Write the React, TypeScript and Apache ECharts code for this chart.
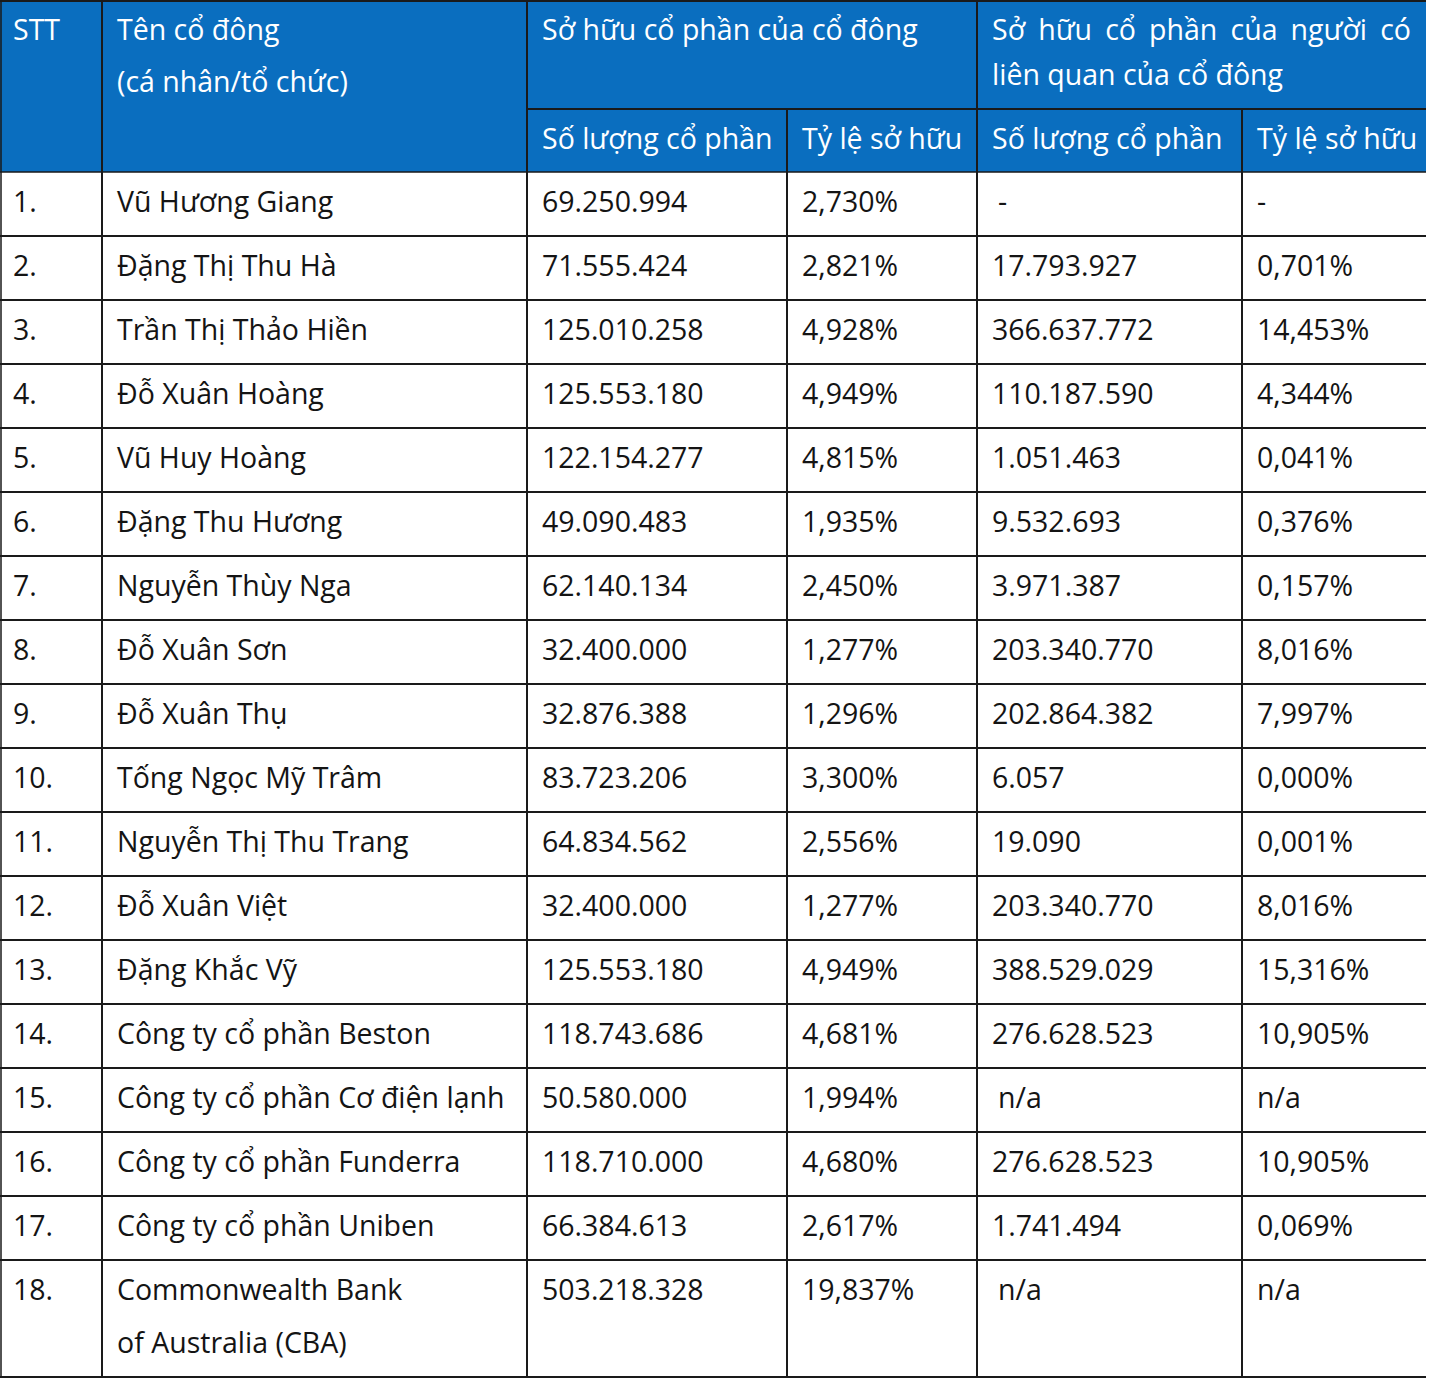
import React, { useEffect, useRef } from "react";
import * as echarts from "echarts";

const stt = ["1.", "2.", "3.", "4.", "5.", "6.", "7.", "8.", "9.", "10.", "11.", "12.", "13.", "14.", "15.", "16.", "17.", "18."];
const names = [
  "Vũ Hương Giang",
  "Đặng Thị Thu Hà",
  "Trần Thị Thảo Hiền",
  "Đỗ Xuân Hoàng",
  "Vũ Huy Hoàng",
  "Đặng Thu Hương",
  "Nguyễn Thùy Nga",
  "Đỗ Xuân Sơn",
  "Đỗ Xuân Thụ",
  "Tống Ngọc Mỹ Trâm",
  "Nguyễn Thị Thu Trang",
  "Đỗ Xuân Việt",
  "Đặng Khắc Vỹ",
  "Công ty cổ phần Beston",
  "Công ty cổ phần Cơ điện lạnh",
  "Công ty cổ phần Funderra",
  "Công ty cổ phần Uniben",
  "Commonwealth Bank\nof Australia (CBA)",
];
const ownShares = [
  "69.250.994", "71.555.424", "125.010.258", "125.553.180", "122.154.277", "49.090.483",
  "62.140.134", "32.400.000", "32.876.388", "83.723.206", "64.834.562", "32.400.000",
  "125.553.180", "118.743.686", "50.580.000", "118.710.000", "66.384.613", "503.218.328",
];
const ownPct = [
  "2,730%", "2,821%", "4,928%", "4,949%", "4,815%", "1,935%", "2,450%", "1,277%", "1,296%",
  "3,300%", "2,556%", "1,277%", "4,949%", "4,681%", "1,994%", "4,680%", "2,617%", "19,837%",
];
const relShares = [
  "-", "17.793.927", "366.637.772", "110.187.590", "1.051.463", "9.532.693", "3.971.387",
  "203.340.770", "202.864.382", "6.057", "19.090", "203.340.770", "388.529.029", "276.628.523",
  "n/a", "276.628.523", "1.741.494", "n/a",
];
const relPct = [
  "-", "0,701%", "14,453%", "4,344%", "0,041%", "0,376%", "0,157%", "8,016%", "7,997%",
  "0,000%", "0,001%", "8,016%", "15,316%", "10,905%", "n/a", "10,905%", "0,069%", "n/a",
];
const headerSTT = "STT";
const headerName = ["Tên cổ đông", "(cá nhân/tổ chức)"];
const headerOwn = "Sở hữu cổ phần của cổ đông";
const headerRel = ["Sở hữu cổ phần của người có", "liên quan của cổ đông"];
const headerSub = ["Số lượng cổ phần", "Tỷ lệ sở hữu", "Số lượng cổ phần", "Tỷ lệ sở hữu"];

const FONT = '"Open Sans", "Noto Sans", sans-serif';
const FS = 28.5;
const BLUE = "#0a6ebf";
const INK = "#141414";
const LINE = "#1a1a1a";

export default function App() {
  const ref = useRef<HTMLDivElement>(null);
  useEffect(() => {
    document.body.style.margin = "0";
    if (!ref.current) return;
    const chart = echarts.init(ref.current, null, { renderer: "svg" });

    const colX = [0, 102, 527, 787, 977, 1242, 1426];
    const headSplit = 109;
    const headBottom = 172;
    const rowH = 64;
    const lastRowH = 117;
    const pad = 15;

    const canvas = document.createElement("canvas");
    const ctx = canvas.getContext("2d")!;
    ctx.font = `${FS}px ${FONT}`;

    const els: any[] = [];
    const txt = (s: string, x: number, y: number, color: string) => {
      els.push({
        type: "text",
        x,
        y,
        silent: true,
        style: { text: s, fill: color, font: `${FS}px ${FONT}`, textAlign: "left", textVerticalAlign: "middle" },
      });
    };
    const hline = (x1: number, x2: number, y: number, w = 2) =>
      els.push({ type: "line", silent: true, shape: { x1, y1: y, x2, y2: y }, style: { stroke: LINE, lineWidth: w } });
    const vline = (x: number, y1: number, y2: number, w = 2) =>
      els.push({ type: "line", silent: true, shape: { x1: x, y1, x2: x, y2 }, style: { stroke: LINE, lineWidth: w } });

    // header background
    els.push({ type: "rect", silent: true, shape: { x: 0, y: 0, width: colX[6], height: headBottom }, style: { fill: BLUE } });

    // header texts
    txt(headerSTT, 13, 29, "#fff");
    txt(headerName[0], colX[1] + pad, 29, "#fff");
    txt(headerName[1], colX[1] + pad, 81, "#fff");
    txt(headerOwn, colX[2] + pad, 29, "#fff");
    // justified first line of related header
    const words = headerRel[0].split(" ");
    const left = colX[4] + pad;
    const right = colX[6] - 15;
    const widths = words.map((w) => ctx.measureText(w).width);
    const total = widths.reduce((a, b) => a + b, 0);
    const gap = (right - left - total) / (words.length - 1);
    let cx = left;
    words.forEach((w, i) => {
      txt(w, cx, 29, "#fff");
      cx += widths[i] + gap;
    });
    txt(headerRel[1], left, 74, "#fff");
    headerSub.forEach((s, i) => txt(s, colX[2 + i] + pad, 138, "#fff"));

    // data rows
    const rowTops: number[] = [];
    for (let i = 0; i < stt.length; i++) rowTops.push(headBottom + i * rowH);
    const bottom = rowTops[rowTops.length - 1] + lastRowH;

    for (let i = 0; i < stt.length; i++) {
      const cy = rowTops[i] + 28.5;
      txt(stt[i], 13, cy, INK);
      names[i].split("\n").forEach((ln, k) => txt(ln, colX[1] + pad, cy + k * 53, INK));
      txt(ownShares[i], colX[2] + pad, cy, INK);
      txt(ownPct[i], colX[3] + pad, cy, INK);
      const rs = relShares[i];
      txt(rs, colX[4] + pad + (/^\d/.test(rs) ? 0 : 6), cy, INK);
      txt(relPct[i], colX[5] + pad, cy, INK);
    }

    // lines
    hline(0, colX[6], 1, 2);
    hline(colX[2], colX[6], headSplit, 2);
    hline(0, colX[6], headBottom, 1.5);
    for (let i = 1; i < rowTops.length; i++) hline(0, colX[6], rowTops[i], 2);
    hline(0, colX[6], bottom, 2);
    vline(1, 0, bottom, 1.5);
    vline(colX[1], 0, bottom, 2);
    vline(colX[2], 0, bottom, 2);
    vline(colX[3], headSplit, bottom, 2);
    vline(colX[4], 0, bottom, 2);
    vline(colX[5], headSplit, bottom, 2);

    chart.setOption({
      animation: false,
      backgroundColor: "#ffffff",
      graphic: { elements: els },
    });
    return () => chart.dispose();
  }, []);
  return <div ref={ref} style={{ width: 1432, height: 1379 }} />;
}
